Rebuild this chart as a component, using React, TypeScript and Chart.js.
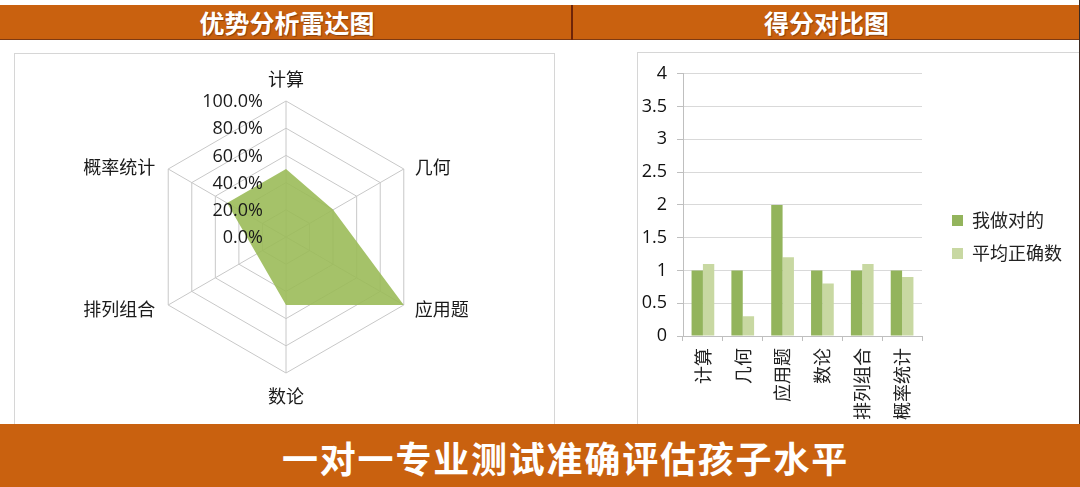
import React, { useEffect, useRef } from 'react';
import { Chart, registerables } from 'chart.js';

Chart.register(...registerables);

// ---------- data ----------
const CATEGORIES = ['计算', '几何', '应用题', '数论', '排列组合', '概率统计'];
const RADAR_VALUES = [0.5, 0.4, 1.0, 0.5, 0.25, 0.5];
const RADAR_TICKS = [0, 0.2, 0.4, 0.6, 0.8, 1.0];
const SERIES_NAMES = ['我做对的', '平均正确数'];
const MY_CORRECT = [1, 1, 2, 1, 1, 1];
const AVG_CORRECT = [1.1, 0.3, 1.2, 0.8, 1.1, 0.9];
const BAR_Y_MIN = 0;
const BAR_Y_MAX = 4;
const BAR_Y_STEP = 0.5;
const HEADER_TITLES = ['优势分析雷达图', '得分对比图'];
const BANNER_TEXT = '一对一专业测试准确评估孩子水平';

// ---------- styles ----------
const CJK = "'Noto Sans CJK SC', sans-serif";
const NUM = "'Open Sans', 'Noto Sans CJK SC', sans-serif";
const ORANGE = '#C9610F';
const DARK_GREEN = '#93B45C';
const LIGHT_GREEN = '#C8D8A2';
const RADAR_FILL = 'rgba(155,187,89,0.9)';
const GRID = '#C8C8C8';

const radarLabelPlugin = {
  id: 'radarLabels',
  afterDatasetsDraw(chart: any) {
    const scale = chart.scales.r;
    const ctx = chart.ctx;
    ctx.save();
    ctx.fillStyle = '#1a1a1a';
    // tick labels, to the left of the vertical axis
    ctx.font = `18px ${NUM}`;
    ctx.textAlign = 'right';
    ctx.textBaseline = 'middle';
    RADAR_TICKS.forEach((v) => {
      const d = scale.getDistanceFromCenterForValue(v);
      ctx.fillText((v * 100).toFixed(1) + '%', scale.xCenter - 23, scale.yCenter - d + 1);
    });
    // point labels
    ctx.font = `18px ${CJK}`;
    CATEGORIES.forEach((lab, i) => {
      const a = scale.getIndexAngle(i);
      const sx = Math.sin(a);
      const cy = -Math.cos(a);
      const p = scale.getPointPosition(i, scale.drawingArea);
      if (Math.abs(sx) < 0.01) {
        ctx.textAlign = 'center';
        ctx.fillText(lab, p.x, p.y + (cy < 0 ? -22 : 23));
      } else {
        ctx.textAlign = sx > 0 ? 'left' : 'right';
        ctx.fillText(lab, p.x + (sx > 0 ? 11 : -13), p.y + (cy < 0 ? -2 : 4));
      }
    });
    ctx.restore();
  },
};

const LEGEND_W = 158;
const legendShiftPlugin = {
  id: 'legendShift',
  beforeLayout(chart: any) {
    const lg = chart.legend;
    if (lg && !lg.__patched) {
      const orig = lg.fit;
      lg.fit = function () {
        orig.call(this);
        if (!this.isHorizontal()) this.width = LEGEND_W;
      };
      lg.__patched = true;
    }
  },
  afterLayout(chart: any) {
    const lg = chart.legend;
    if (!lg) return;
    lg.left += 15;
    lg.top -= 10;
    lg.bottom -= 10;
  },
};

export default function App() {
  const radarRef = useRef<HTMLCanvasElement | null>(null);
  const barRef = useRef<HTMLCanvasElement | null>(null);

  useEffect(() => {
    const radar = new Chart(radarRef.current as HTMLCanvasElement, {
      type: 'radar',
      data: {
        labels: CATEGORIES,
        datasets: [
          {
            data: RADAR_VALUES,
            backgroundColor: RADAR_FILL,
            borderWidth: 0,
            pointRadius: 0,
            fill: true,
          },
        ],
      },
      options: {
        animation: false,
        responsive: false,
        layout: { padding: { top: 47, bottom: 50, left: 2, right: 0 } },
        plugins: { legend: { display: false }, tooltip: { enabled: false } },
        elements: { line: { tension: 0 } },
        scales: {
          r: {
            min: 0,
            max: 1,
            ticks: { display: false, stepSize: 0.2 },
            pointLabels: { display: false },
            grid: { color: GRID, lineWidth: 1 },
            angleLines: { color: GRID, lineWidth: 1 },
          },
        },
      } as any,
      plugins: [radarLabelPlugin],
    });

    const bar = new Chart(barRef.current as HTMLCanvasElement, {
      type: 'bar',
      data: {
        labels: CATEGORIES,
        datasets: [
          {
            label: SERIES_NAMES[0],
            data: MY_CORRECT,
            backgroundColor: DARK_GREEN,
            categoryPercentage: 0.57,
            barPercentage: 1,
          },
          {
            label: SERIES_NAMES[1],
            data: AVG_CORRECT,
            backgroundColor: LIGHT_GREEN,
            categoryPercentage: 0.57,
            barPercentage: 1,
          },
        ],
      },
      options: {
        animation: false,
        responsive: false,
        layout: { padding: { top: 17, right: 0, bottom: 0, left: 0 } },
        plugins: {
          legend: {
            position: 'right',
            labels: {
              boxWidth: 11,
              boxHeight: 11,
              padding: 15,
              color: '#222',
              font: { family: CJK, size: 18 },
            },
          },
          tooltip: { enabled: false },
        },
        scales: {
          x: {
            grid: {
              display: true,
              drawOnChartArea: false,
              drawTicks: true,
              tickLength: 5,
              color: '#BFBFBF',
              offset: true,
            },
            border: { display: true, color: '#BFBFBF' },
            ticks: {
              minRotation: 90,
              maxRotation: 90,
              autoSkip: false,
              padding: 7,
              color: '#222',
              font: { family: CJK, size: 18 },
            },
            afterFit: (s: any) => {
              s.height = 88;
            },
          },
          y: {
            min: BAR_Y_MIN,
            max: BAR_Y_MAX,
            ticks: {
              stepSize: BAR_Y_STEP,
              padding: 10,
              color: '#111',
              font: { family: NUM, size: 18 },
              callback: (v: any) => String(Number(v)),
            },
            grid: { color: '#D9D9D9', tickLength: 6, tickColor: '#BFBFBF' },
            border: { color: '#BFBFBF' },
            afterFit: (s: any) => {
              s.width = 45;
            },
          },
        },
      } as any,
      plugins: [legendShiftPlugin],
    });

    return () => {
      radar.destroy();
      bar.destroy();
    };
  }, []);

  const abs = (s: React.CSSProperties): React.CSSProperties => ({ position: 'absolute', ...s });

  return (
    <div
      style={{
        position: 'absolute',
        left: 0,
        top: 0,
        width: 1080,
        height: 487,
        overflow: 'hidden',
        background: '#fff',
        fontFamily: CJK,
      }}
    >
      {/* header bar */}
      <div
        style={abs({
          left: 0,
          top: 5,
          width: 1080,
          height: 34,
          background: ORANGE,
          borderBottom: '1px solid #7E3A12',
        })}
      />
      <div style={abs({ left: 571, top: 5, width: 2, height: 35, background: '#6E2408' })} />
      <div
        style={abs({
          left: 0,
          top: 5,
          width: 574,
          height: 34,
          lineHeight: '34px',
          textAlign: 'center',
          color: '#fff',
          fontWeight: 700,
          fontSize: 25,
          textShadow: '1px 1px 1px rgba(80,30,0,0.5)',
          whiteSpace: 'nowrap',
        })}
      >
        {HEADER_TITLES[0]}
      </div>
      <div
        style={abs({
          left: 573,
          top: 5,
          width: 507,
          height: 34,
          lineHeight: '34px',
          textAlign: 'center',
          color: '#fff',
          fontWeight: 700,
          fontSize: 25,
          textShadow: '1px 1px 1px rgba(80,30,0,0.5)',
          whiteSpace: 'nowrap',
        })}
      >
        {HEADER_TITLES[1]}
      </div>

      {/* panels */}
      <div
        style={abs({
          left: 14,
          top: 53,
          width: 541,
          height: 400,
          border: '1px solid #D6D6D6',
          boxSizing: 'border-box',
        })}
      />
      <div
        style={abs({
          left: 637,
          top: 52,
          width: 460,
          height: 400,
          border: '1px solid #D6D6D6',
          boxSizing: 'border-box',
        })}
      />
      <canvas
        ref={radarRef}
        width={540}
        height={369}
        style={abs({ left: 15, top: 54, width: 540, height: 369, display: 'block' })}
      />
      <canvas
        ref={barRef}
        width={442}
        height={371}
        style={abs({ left: 638, top: 53, width: 442, height: 371, display: 'block' })}
      />
      <div style={abs({ left: 1079, top: 0, width: 1, height: 424, background: '#3A2A22' })} />

      {/* bottom banner */}
      <div style={abs({ left: 0, top: 424, width: 1080, height: 63, background: ORANGE })} />
      <div
        style={abs({
          left: 282,
          top: 439,
          height: 36,
          lineHeight: '36px',
          color: '#fff',
          fontWeight: 700,
          fontSize: 36,
          letterSpacing: '1.8px',
          whiteSpace: 'nowrap',
        })}
      >
        {BANNER_TEXT}
      </div>
    </div>
  );
}
